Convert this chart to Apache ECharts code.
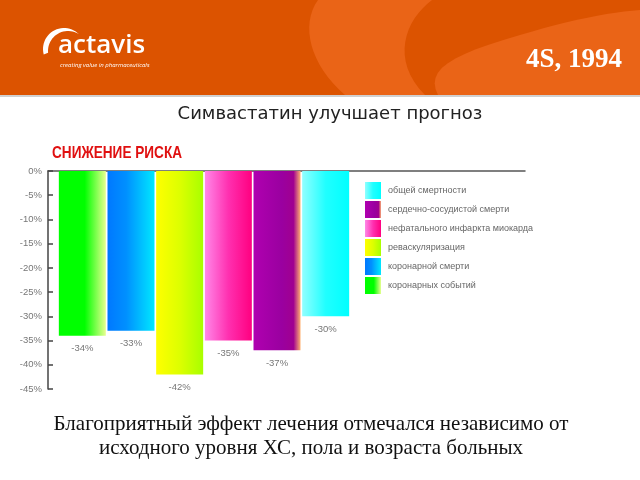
<!DOCTYPE html>
<html><head><meta charset="utf-8">
<script src="https://cdn.jsdelivr.net/npm/echarts@6/dist/echarts.min.js"></script>
<style>html,body{margin:0;padding:0;background:#fff}#c{width:640px;height:480px}</style>
</head><body><div id="c"></div>
<script>
var categories = ['коронарных событий','коронарной смерти','реваскуляризация','нефатального инфаркта миокарда','сердечно-сосудистой смерти','общей смертности'];
var values = [-34, -33, -42, -35, -37, -30];
var valueLabels = ['-34%','-33%','-42%','-35%','-37%','-30%'];
var legendOrder = ['общей смертности','сердечно-сосудистой смерти','нефатального инфаркта миокарда','реваскуляризация','коронарной смерти','коронарных событий'];
var yTicks = [0,-5,-10,-15,-20,-25,-30,-35,-40,-45];
var gradStops = [
  [['#00ff00',0],['#00ff00',0.55],['#e8ff90',1]],
  [['#0078ff',0],['#0090ff',0.4],['#00e8ff',1]],
  [['#ffff00',0],['#ddff00',0.5],['#a8ff00',1]],
  [['#ff88e8',0],['#ff30b0',0.5],['#ff0080',1]],
  [['#b000b0',0],['#9a00a0',0.6],['#a00090',0.85],['#ffb070',1]],
  [['#90ffff',0],['#20ffff',0.5],['#00ffff',1]]
];
function grad(s){return new echarts.graphic.LinearGradient(0,0,1,0,s.map(function(p){return {offset:p[1],color:p[0]};}));}
function bez(p0,p1,p2,p3,n){var out=[];for(var k=0;k<=n;k++){var t=k/n,u=1-t;out.push([u*u*u*p0[0]+3*u*u*t*p1[0]+3*u*t*t*p2[0]+t*t*t*p3[0],u*u*u*p0[1]+3*u*u*t*p1[1]+3*u*t*t*p2[1]+t*t*t*p3[1]]);}return out;}
function arcPts(cx,cy,r,a0,a1,n){var out=[];for(var k=0;k<=n;k++){var a=(a0+(a1-a0)*k/n)*Math.PI/180;out.push([cx+r*Math.cos(a),cy-r*Math.sin(a)]);}return out;}
var sw1 = [[318,0],[432,0]].concat(bez([432,0],[405,20],[390,60],[425,95],16)).concat(bez([345,95],[310,65],[300,25],[318,0],16));
var sw2 = bez([438,95],[425,70],[450,55],[520,35],12).concat(bez([520,35],[570,20],[610,12],[640,10],12)).concat([[640,95]]);
var logo = arcPts(64,49,21,195,50,24).concat(arcPts(68,51,20,55,185,24));
var narrow = '"Liberation Sans Narrow", "Liberation Sans", sans-serif';
var chart = echarts.init(document.getElementById('c'));
var series = categories.map(function(name,i){
  var d = categories.map(function(_,j){return j===i?values[i]:'-';});
  return {
    name:name, type:'bar', stack:'s', xAxisIndex:0, yAxisIndex:0, data:d, barWidth:47,
    itemStyle:{color:grad(gradStops[i])},
    label:{show:true, position:'bottom', distance:8, formatter:function(){return valueLabels[i];}, color:'#777', fontSize:9.5, fontFamily:narrow}
  };
});
var orange = '#dc5300';
var light = '#ea6417';
chart.setOption({
  animation:false,
  backgroundColor:'#fff',
  graphic:[
    {type:'rect', shape:{x:0,y:0,width:640,height:95}, style:{fill:orange}, z:0},
    {type:'polygon', shape:{points:sw1}, style:{fill:light}, z:1},
    {type:'polygon', shape:{points:sw2}, style:{fill:light}, z:1},
    {type:'rect', shape:{x:0,y:95,width:640,height:2}, style:{fill:'#d0d0d0'}, z:1},
    {type:'polygon', shape:{points:logo}, style:{fill:'#fff'}, z:2},
    {type:'text', x:58, y:59, style:{x:0, y:0, text:'actavis', fill:'#fff', font:'600 26px "Open Sans", sans-serif', textVerticalAlign:'bottom'}, z:2},
    {type:'text', style:{x:60, y:65, text:'creating value in pharmaceuticals', fill:'#fff', font:'italic 6px "Open Sans", sans-serif', textVerticalAlign:'middle'}, z:2},
    {type:'text', style:{x:622, y:60, text:'4S, 1994', fill:'#fff', font:'bold 27px "Liberation Serif", serif', textAlign:'right', textVerticalAlign:'middle'}, z:2},
    {type:'text', style:{x:330, y:114, text:'Симвастатин улучшает прогноз', fill:'#222', font:'18px "DejaVu Sans", sans-serif', textAlign:'center', textVerticalAlign:'middle'}, z:2},
    {type:'text', x:52, y:153, scaleX:0.8, style:{x:0, y:0, text:'СНИЖЕНИЕ РИСКА', fill:'#e01010', font:'bold 17px "Liberation Sans", sans-serif', textVerticalAlign:'middle'}, z:2},
    {type:'text', style:{x:311, y:424, text:'Благоприятный эффект лечения отмечался независимо от', fill:'#111', font:'21px "Liberation Serif", serif', textAlign:'center', textVerticalAlign:'middle'}, z:2},
    {type:'text', style:{x:311, y:448, text:'исходного уровня ХС, пола и возраста больных', fill:'#111', font:'21px "Liberation Serif", serif', textAlign:'center', textVerticalAlign:'middle'}, z:2}
  ],
  legend:{
    orient:'vertical', left:360, top:177, data:legendOrder, itemWidth:16, itemHeight:17, itemGap:2,
    icon:'rect', selectedMode:false,
    textStyle:{color:'#666', fontSize:9, fontFamily:narrow, padding:[0,0,0,2]}
  },
  grid:[
    {left:58, top:171, width:292, height:218},
    {left:48, top:171, width:477, height:218}
  ],
  xAxis:[
    {type:'category', gridIndex:0, data:categories, axisLine:{show:false}, axisTick:{show:false}, axisLabel:{show:false}},
    {type:'value', gridIndex:1, position:'top', min:0, max:1, axisLine:{show:true, onZero:false, lineStyle:{color:'#555', width:1.5}}, axisTick:{show:false}, axisLabel:{show:false}, splitLine:{show:false}}
  ],
  yAxis:[
    {type:'value', gridIndex:0, min:-45, max:0, interval:5, offset:10,
     axisLine:{show:true, lineStyle:{color:'#444', width:1.5}},
     axisTick:{show:true, inside:true, length:5, lineStyle:{color:'#444', width:1.5}},
     axisLabel:{color:'#777', fontSize:9.5, fontFamily:narrow, margin:6, formatter:function(v){return v+'%';}},
     splitLine:{show:false}},
    {type:'value', gridIndex:1, min:0, max:1, show:false}
  ],
  series:series
});
</script></body></html>
